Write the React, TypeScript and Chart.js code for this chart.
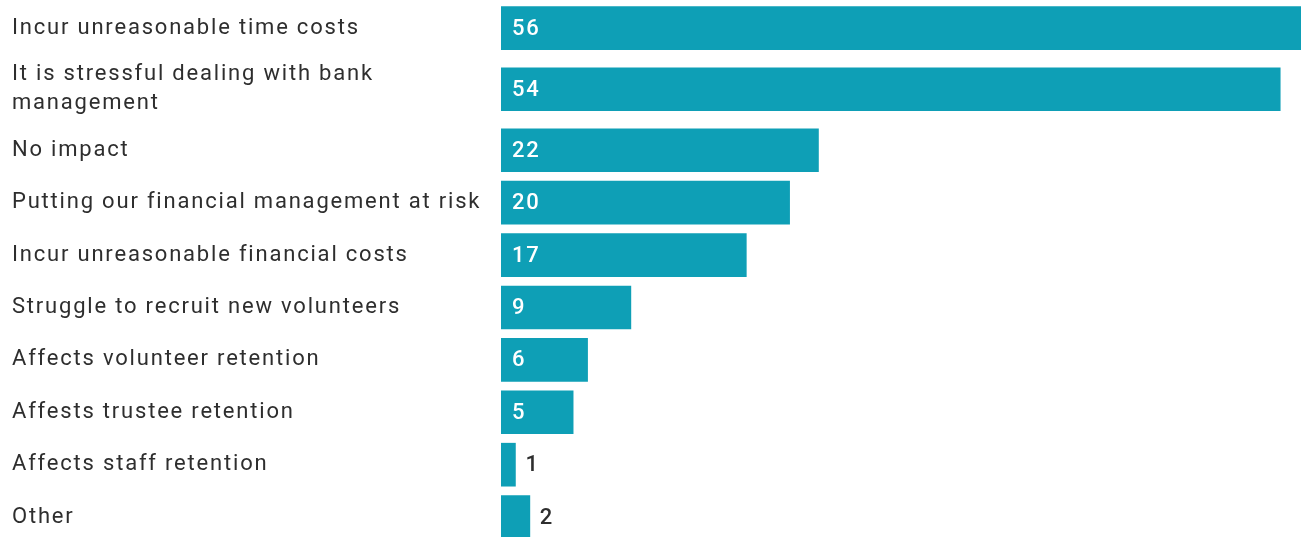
import React, { useEffect, useRef } from "react";
import { Chart, registerables } from "chart.js";

Chart.register(...registerables);

// ---- Data ----
const categories: (string | string[])[] = [
  "Incur unreasonable time costs",
  ["It is stressful dealing with bank", "management"],
  "No impact",
  "Putting our financial management at risk",
  "Incur unreasonable financial costs",
  "Struggle to recruit new volunteers",
  "Affects volunteer retention",
  "Affests trustee retention",
  "Affects staff retention",
  "Other",
];

const values: number[] = [56, 54, 22, 20, 17, 9, 6, 5, 1, 2];

// Rows with multi-line labels get a little more vertical room
const EXTRA_PER_LINE = 0.33;
const rowPositions: number[] = (() => {
  let acc = 0;
  return categories.map((c) => {
    const lines = Array.isArray(c) ? c.length : 1;
    const h = 1 + (lines - 1) * EXTRA_PER_LINE;
    const center = acc + h / 2;
    acc += h;
    return center;
  });
})();

const BAR_COLOR = "#0e9fb6";
const TEXT_COLOR = "#2e2e2e";
const FONT_FAMILY = "Roboto, 'Noto Sans', sans-serif";

const valueLabels = {
  id: "valueLabels",
  beforeDraw(chart: any) {
    (chart.ctx as any).letterSpacing = "1.8px";
  },
  afterDatasetsDraw(chart: any) {
    const ctx = chart.ctx as CanvasRenderingContext2D;
    const meta = chart.getDatasetMeta(0);
    ctx.save();
    (ctx as any).letterSpacing = "1.8px";
    ctx.font = `500 22px ${FONT_FAMILY}`;
    ctx.textBaseline = "middle";
    ctx.textAlign = "left";
    meta.data.forEach((bar: any, i: number) => {
      const text = String(values[i]);
      const w = ctx.measureText(text).width;
      const left = bar.base;
      const right = bar.x;
      if (right - left > w + 24) {
        ctx.fillStyle = "#ffffff";
        ctx.fillText(text, left + 11, bar.y + 1);
      } else {
        ctx.fillStyle = TEXT_COLOR;
        ctx.fillText(text, right + 10, bar.y + 1);
      }
    });
    ctx.restore();
  },
};

export default function App() {
  const canvasRef = useRef<HTMLCanvasElement | null>(null);

  useEffect(() => {
    document.body.style.margin = "0";
    const canvas = canvasRef.current;
    if (!canvas) return;
    const chart = new Chart(canvas, {
      type: "bar",
      data: {
        datasets: [
          {
            data: values.map((v, i) => ({ x: v, y: rowPositions[i] })),
            backgroundColor: BAR_COLOR,
            borderWidth: 0,
            barThickness: 43,
          } as any,
        ],
      },
      options: {
        indexAxis: "y",
        responsive: false,
        maintainAspectRatio: false,
        animation: false,
        devicePixelRatio: 1,
        layout: { padding: { left: 12, top: 2, right: 0, bottom: 0 } },
        plugins: {
          legend: { display: false },
          tooltip: { enabled: false },
        },
        scales: {
          x: {
            type: "linear",
            display: false,
            min: 0,
            max: 55.44,
            offset: false,
          },
          y: {
            type: "linear",
            reverse: true,
            offset: false,
            min: 0,
            max: 10.21,
            grid: { display: false, offset: false },
            border: { display: false },
            afterBuildTicks: (axis: any) => {
              axis.ticks = rowPositions.map((v) => ({ value: v }));
            },
            afterFit: (axis: any) => {
              axis.width = 489;
              axis.paddingTop = 0;
              axis.paddingBottom = 0;
            },
            ticks: {
              autoSkip: false,
              crossAlign: "far",
              padding: 0,
              color: TEXT_COLOR,
              font: { family: FONT_FAMILY, size: 22, lineHeight: 29 / 22 },
              callback: (_v: any, i: number) => categories[i] as any,
            },
          } as any,
        },
      },
      plugins: [valueLabels],
    });
    return () => chart.destroy();
  }, []);

  return (
    <div style={{ width: 1301, height: 537, background: "#ffffff" }}>
      <canvas ref={canvasRef} width={1301} height={537} style={{ display: "block" }} />
    </div>
  );
}
